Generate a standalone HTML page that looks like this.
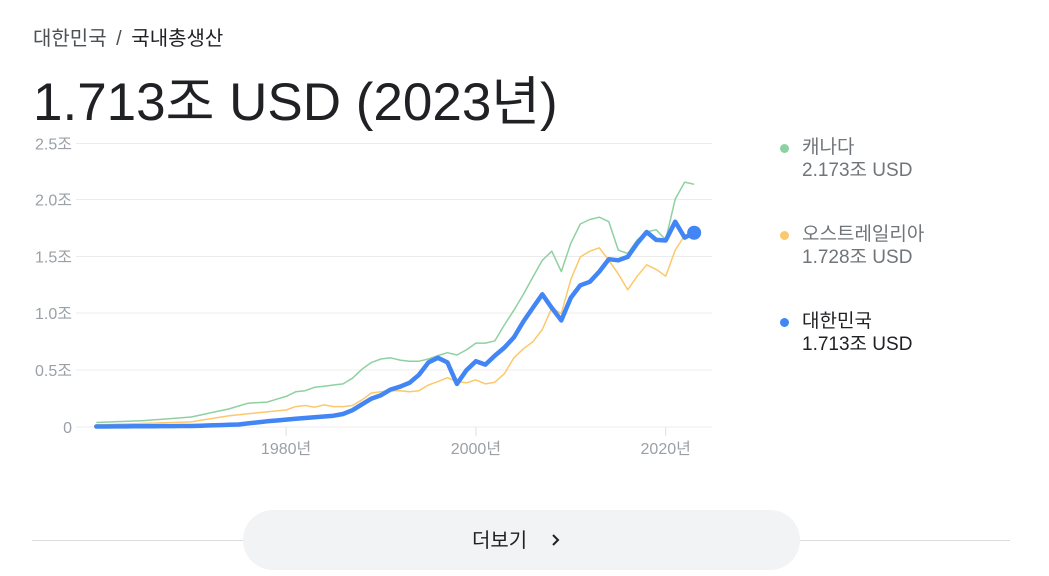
<!DOCTYPE html>
<html><head><meta charset="utf-8"><style>
body{margin:0;width:1049px;height:576px;background:#fff;font-family:"Liberation Sans","Noto Sans CJK KR",sans-serif;position:relative;overflow:hidden}
.a{position:absolute;white-space:nowrap}
</style></head><body>
<div class="a" style="left:33px;top:22px;font-size:20px;color:#4d5156">대한민국 <span style="margin:0 4px">/</span> <span style="color:#202124">국내총생산</span></div>
<div class="a" style="left:33px;top:60px;font-size:53px;color:#202124">1.713조 USD (2023년)</div>
<svg class="a" style="left:0;top:0" width="760" height="480" id="s" font-family="Liberation Sans, Noto Sans CJK KR, sans-serif"></svg>
<div class="a" style="left:780px;top:136px;font-size:19px;line-height:23px;color:#70757a">
<div><span style="display:inline-block;width:9px;height:9px;border-radius:50%;background:#8ed1a0;margin-right:13px"></span>캐나다</div>
<div style="padding-left:22px">2.173조 USD</div>
<div style="margin-top:41px"><span style="display:inline-block;width:9px;height:9px;border-radius:50%;background:#fdc86b;margin-right:13px"></span>오스트레일리아</div>
<div style="padding-left:22px">1.728조 USD</div>
<div style="margin-top:41px;color:#202124"><span style="display:inline-block;width:9px;height:9px;border-radius:50%;background:#4285f4;margin-right:13px"></span>대한민국</div>
<div style="padding-left:22px;color:#202124">1.713조 USD</div>
</div>
<div class="a" style="left:32px;top:540px;width:978px;height:1px;background:#dadce0"></div>
<div class="a" style="left:243px;top:510px;width:557px;height:60px;border-radius:30px;background:#f1f3f4;font-size:20px;color:#202124"><span class="a" style="left:229px;top:14px">더보기</span>
<svg class="a" style="left:307px;top:23px" width="12" height="14"><polyline points="3,2 8,7 3,12" fill="none" stroke="#202124" stroke-width="2"/></svg></div>
<script>
const s=document.getElementById('s');
const X=y=>96.3+(y-1960)*9.49, Y=v=>427-v*113.4;
let h='';
const g=[[143.5,'2.5조'],[199.5,'2.0조'],[256.5,'1.5조'],[313,'1.0조'],[370,'0.5조'],[427,'0']];
g.forEach(([y,t])=>{h+=`<line x1="76" x2="712" y1="${y}" y2="${y}" stroke="#ececec" stroke-width="1"/><text x="72" y="${y+6}" text-anchor="end" font-size="16" fill="#9aa0a6">${t}</text>`;});
[[1980,'1980년'],[2000,'2000년'],[2020,'2020년']].forEach(([yr,t])=>{const x=X(yr);h+=`<line x1="${x}" x2="${x}" y1="427" y2="436" stroke="#e0e0e0"/><text x="${x}" y="454" text-anchor="middle" font-size="16" fill="#9aa0a6">${t}</text>`;});
function ser(pts){
 const k=[];for(let i=0;i<pts.length;i+=2)k.push([pts[i],pts[i+1]]);
 const out=[];for(let j=0;j<k.length-1;j++){const[a,va]=k[j],[b,vb]=k[j+1];for(let y=a;y<b;y++)out.push([y,va+(vb-va)*(y-a)/(b-a)]);}
 out.push(k[k.length-1]);return out.map(([y,v])=>X(y).toFixed(1)+','+Y(v).toFixed(1)).join(' ');}
const ca=[1960,.04,1965,.056,1970,.088,1974,.16,1976,.21,1978,.22,1980,.27,1981,.31,1982,.32,1983,.35,1984,.36,1985,.37,1986,.38,1987,.43,1988,.51,1989,.57,1990,.6,1991,.61,1992,.59,1993,.58,1994,.58,1995,.6,1996,.63,1997,.655,1998,.635,1999,.68,2000,.74,2001,.74,2002,.76,2003,.9,2004,1.03,2005,1.17,2006,1.32,2007,1.47,2008,1.55,2009,1.37,2010,1.62,2011,1.79,2012,1.83,2013,1.85,2014,1.81,2015,1.56,2016,1.53,2017,1.65,2018,1.72,2019,1.74,2020,1.65,2021,2.01,2022,2.16,2023,2.14];
const au=[1960,.019,1970,.045,1974,.1,1980,.15,1981,.18,1982,.19,1983,.175,1984,.195,1985,.18,1986,.18,1987,.19,1988,.24,1989,.3,1990,.31,1991,.32,1992,.32,1993,.31,1994,.32,1995,.37,1996,.4,1997,.435,1998,.4,1999,.39,2000,.415,2001,.38,2002,.395,2003,.47,2004,.61,2005,.69,2006,.75,2007,.86,2008,1.05,2009,1.0,2010,1.3,2011,1.5,2012,1.55,2013,1.58,2014,1.47,2015,1.35,2016,1.21,2017,1.33,2018,1.43,2019,1.39,2020,1.33,2021,1.56,2022,1.69,2023,1.72];
const ko=[1960,.004,1970,.009,1975,.022,1978,.05,1980,.065,1985,.1,1986,.115,1987,.148,1988,.2,1989,.25,1990,.28,1991,.33,1992,.355,1993,.39,1994,.46,1995,.57,1996,.61,1997,.57,1998,.38,1999,.5,2000,.58,2001,.55,2002,.63,2003,.7,2004,.79,2005,.93,2006,1.05,2007,1.17,2008,1.05,2009,.94,2010,1.14,2011,1.25,2012,1.28,2013,1.37,2014,1.48,2015,1.47,2016,1.5,2017,1.62,2018,1.72,2019,1.65,2020,1.645,2021,1.81,2022,1.67,2023,1.713];
h+=`<polyline points="${ser(ca)}" fill="none" stroke="#8ed1a0" stroke-width="1.5" stroke-linejoin="round"/>`;
h+=`<polyline points="${ser(au)}" fill="none" stroke="#fdc86b" stroke-width="1.5" stroke-linejoin="round"/>`;
h+=`<polyline points="${ser(ko)}" fill="none" stroke="#4285f4" stroke-width="4.5" stroke-linejoin="round" stroke-linecap="round"/>`;
h+=`<circle cx="${X(2023)}" cy="${Y(1.713)}" r="7" fill="#4285f4"/>`;
s.innerHTML=h;
</script>
</body></html>
